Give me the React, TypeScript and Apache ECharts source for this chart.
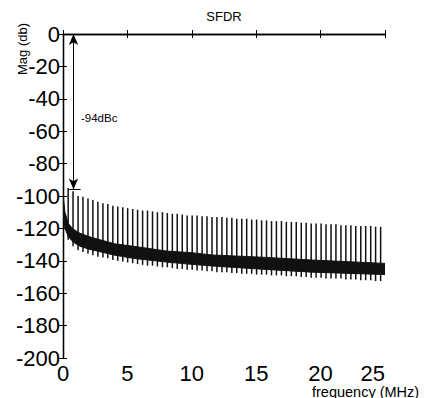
import React, { useEffect, useRef } from "react";
import * as echarts from "echarts";

// ---- data ----
const xTickValues = [0, 5, 10, 15, 20, 25];
const yTickValues = [-200, -180, -160, -140, -120, -100, -80, -60, -40, -20, 0];

// spur (harmonic) lines: frequency (MHz), top (dB), bottom (dB)
const spurFreq = [
  0.4, 0.78, 1.17, 1.55, 1.94, 2.32, 2.71, 3.1, 3.48, 3.87, 4.25, 4.64, 5.02, 5.41, 5.79, 6.18,
  6.56, 6.95, 7.33, 7.72, 8.1, 8.49, 8.87, 9.26, 9.64, 10.03, 10.41, 10.8, 11.18, 11.57, 11.95, 12.34,
  12.72, 13.11, 13.49, 13.88, 14.26, 14.65, 15.03, 15.42, 15.8, 16.19, 16.57, 16.96, 17.34, 17.73, 18.11, 18.5,
  18.88, 19.27, 19.65, 20.04, 20.42, 20.81, 21.19, 21.58, 21.96, 22.35, 22.73, 23.12, 23.5, 23.89, 24.27, 24.66,
];
const spurTop = [
  -95, -97, -100, -100.5, -101.5, -102.5, -103.5, -104.5, -105, -106, -106.5, -107, -107.5, -108, -108.5, -109,
  -109, -109.5, -110, -110, -110.5, -111, -111, -111.5, -112, -112, -112, -112.5, -112.5, -113, -113, -113,
  -113.5, -113.5, -114, -114, -114, -114.5, -114.5, -115, -115, -115.5, -115.5, -115.5, -116, -116, -116, -116.5,
  -116.5, -117, -117, -117, -117.5, -117.5, -117.5, -118, -118, -118, -118.5, -118.5, -118.5, -118.5, -119, -119,
];
const spurBottom = [
  -127, -131, -133.5, -134.5, -135.5, -136.5, -137.5, -138, -138.5, -139.5, -140, -140.5, -141, -141.5, -142, -142.5,
  -143, -143, -143.5, -144, -144, -144.5, -145, -145, -145.5, -145.5, -146, -146, -146.5, -146.5, -147, -147,
  -147, -147.5, -147.5, -148, -148, -148, -148.5, -148.5, -148.5, -149, -149, -149, -149.5, -149.5, -149.5, -150,
  -150, -150.5, -150.5, -150.5, -151, -151, -151, -151, -151.5, -151.5, -151.5, -152, -152, -152, -152.5, -152.5,
];

// noise floor band envelope
const noiseFreq = [0, 0.15, 0.41, 0.8, 1.32, 2.0, 2.87, 4.0, 5.45, 8.05, 10.0, 11.57, 15.5, 19.3, 25];
const noiseUpper = [-99, -110, -117, -120.5, -123, -125, -127, -129.5, -131, -134, -135, -136.4, -137.8, -139.5, -141.6];
const noiseLower = [-110, -120, -125, -128.5, -131, -132.8, -134.4, -136.5, -138.5, -140.8, -142.2, -143.2, -145.2, -147, -148.5];

// SFDR annotation
const annotFreq = 0.815;
const annotTop = 0;
const annotBottom = -96;
const annotTickFrom = 0.47;
const annotTickTo = 1.37;

const FONT = "'Liberation Sans', Arial, sans-serif";

export default function App() {
  const ref = useRef<HTMLDivElement>(null);
  useEffect(() => {
    if (!ref.current) return;
    const chart = echarts.init(ref.current, undefined, { renderer: "svg" });
    const axisLine = { show: true, lineStyle: { color: "#000", width: 1.3 } };
    const tick = { show: true, inside: true, length: 4, lineStyle: { color: "#000", width: 1 } };
    const bandData = noiseFreq.map((f, i) => [f, noiseUpper[i], noiseLower[i]]);
    const spurData = spurFreq.map((f, i) => [f, spurTop[i], spurBottom[i]]);

    chart.setOption({
      animation: false,
      grid: { left: 63, top: 34, width: 322, height: 324, containLabel: false },
      xAxis: [
        {
          type: "value",
          min: 0,
          max: 25,
          interval: 5,
          position: "bottom",
          axisLine,
          axisTick: tick,
          splitLine: { show: false },
          axisLabel: {
            color: "#000",
            fontSize: 22,
            fontFamily: FONT,
            margin: 4,
            alignMaxLabel: "right",
            formatter: (v: number) => (xTickValues.includes(v) ? String(v) : ""),
          },
        },
        {
          type: "value",
          min: 0,
          max: 25,
          interval: 5,
          position: "top",
          axisLine,
          axisTick: tick,
          splitLine: { show: false },
          axisLabel: { show: false },
        },
      ],
      yAxis: [
        {
          type: "value",
          min: -200,
          max: 0,
          interval: 20,
          position: "left",
          axisLine,
          axisTick: tick,
          splitLine: { show: false },
          axisLabel: {
            color: "#000",
            fontSize: 22,
            fontFamily: FONT,
            margin: 3,
            formatter: (v: number) => (yTickValues.includes(v) ? String(v) : ""),
          },
        },
        {
          type: "value",
          min: -200,
          max: 0,
          interval: 20,
          position: "right",
          axisLine,
          axisTick: tick,
          splitLine: { show: false },
          axisLabel: { show: false },
        },
      ],
      series: [
        {
          type: "custom",
          name: "noise",
          xAxisIndex: 0,
          yAxisIndex: 0,
          data: bandData,
          encode: { x: 0, y: [1, 2] },
          clip: true,
          renderItem: (params: any, api: any) => {
            if (params.dataIndex !== 0) return { type: "group", children: [] };
            const pts: number[][] = [];
            for (let i = 0; i < noiseFreq.length; i++) pts.push(api.coord([noiseFreq[i], noiseUpper[i]]));
            for (let i = noiseFreq.length - 1; i >= 0; i--) pts.push(api.coord([noiseFreq[i], noiseLower[i]]));
            return {
              type: "polygon",
              shape: { points: pts },
              style: { fill: "#111", stroke: "#111", lineWidth: 1 },
            };
          },
        },
        {
          type: "custom",
          name: "spurs",
          xAxisIndex: 0,
          yAxisIndex: 0,
          data: spurData,
          encode: { x: 0, y: [1, 2] },
          clip: true,
          renderItem: (params: any, api: any) => {
            const f = api.value(0);
            const p1 = api.coord([f, api.value(1)]);
            const p2 = api.coord([f, api.value(2)]);
            return {
              type: "line",
              shape: { x1: p1[0], y1: p1[1], x2: p2[0], y2: p2[1] },
              style: { stroke: "#111", lineWidth: 1.5 },
            };
          },
          markLine: {
            silent: true,
            animation: false,
            label: { show: false },
            lineStyle: { color: "#000", width: 1, type: "solid" },
            symbolSize: [7, 11],
            data: [
              [
                { coord: [annotFreq, annotTop], symbol: "arrow" },
                { coord: [annotFreq, annotBottom], symbol: "arrow" },
              ],
              [
                { coord: [annotTickFrom, annotBottom], symbol: "none" },
                { coord: [annotTickTo, annotBottom], symbol: "none" },
              ],
            ],
          },
        },
      ],
      graphic: [
        {
          type: "text",
          x: 224,
          y: 16,
          style: { text: "SFDR", fontSize: 13, fontFamily: FONT, fill: "#000", align: "center", verticalAlign: "middle" },
        },
        {
          type: "text",
          x: 22,
          y: 49,
          rotation: Math.PI / 2,
          style: { text: "Mag (db)", fontSize: 13, fontFamily: FONT, fill: "#000", align: "center", verticalAlign: "middle" },
        },
        {
          type: "text",
          x: 312,
          y: 391.5,
          style: { text: "frequency (MHz)", fontSize: 14.5, fontFamily: FONT, fill: "#000", align: "left", verticalAlign: "middle" },
        },
        {
          type: "text",
          x: 81,
          y: 117.5,
          style: { text: "-94dBc", fontSize: 11.5, fontFamily: FONT, fill: "#000", align: "left", verticalAlign: "middle" },
        },
      ],
    });
    return () => chart.dispose();
  }, []);
  return (
    <div
      ref={ref}
      style={{ position: "fixed", left: 0, top: 0, width: 425, height: 398, background: "#fff" }}
    />
  );
}
